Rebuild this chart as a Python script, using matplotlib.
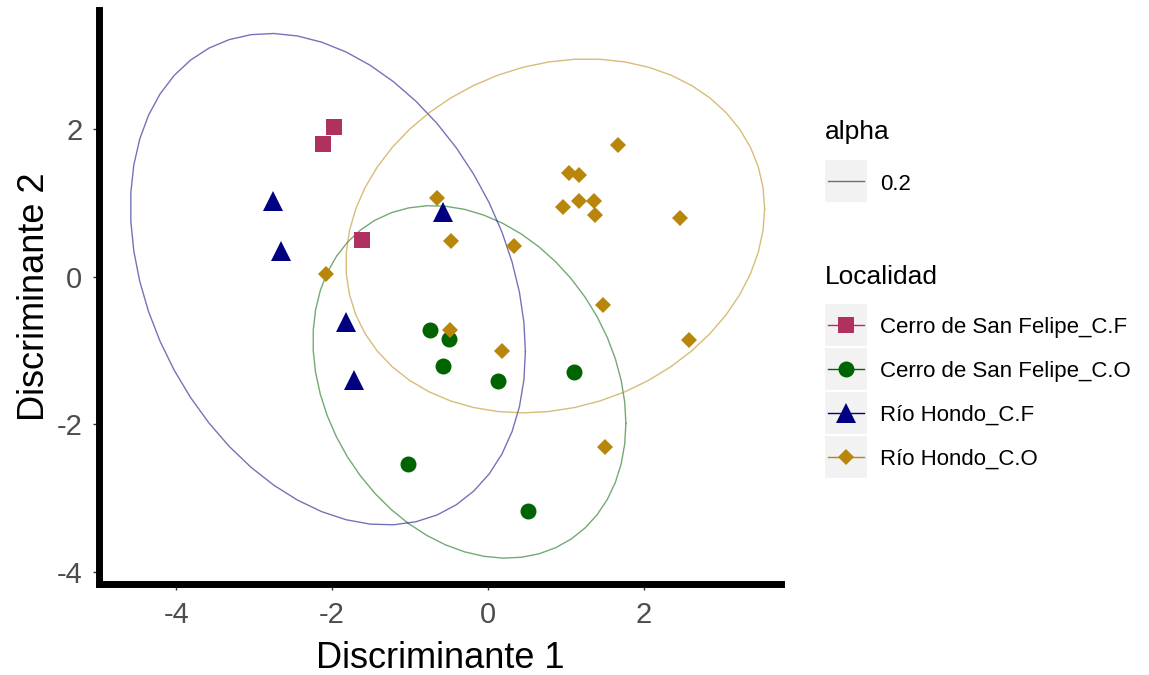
import numpy as np
import matplotlib
matplotlib.use("Agg")
import matplotlib.pyplot as plt
from matplotlib.lines import Line2D
from matplotlib.patches import Rectangle

plt.rcParams['font.family'] = ['Liberation Sans', 'DejaVu Sans']
plt.rcParams['axes.unicode_minus'] = False

# ---- data ----
groups = ["Cerro de San Felipe_C.F", "Cerro de San Felipe_C.O",
          "Río Hondo_C.F", "Río Hondo_C.O"]

csf_cf_x = [-1.97, -2.12, -1.62]
csf_cf_y = [2.03, 1.80, 0.49]

csf_co_x = [-0.74, -0.50, -0.58, 0.13, 1.10, -1.03, 0.51]
csf_co_y = [-0.72, -0.84, -1.21, -1.41, -1.29, -2.54, -3.17]

rh_cf_x = [-2.76, -2.65, -0.58, -1.82, -1.72]
rh_cf_y = [1.03, 0.35, 0.88, -0.61, -1.40]

rh_co_x = [1.67, 1.04, 1.17, 0.96, 1.17, 1.36, 1.38, 2.47, -0.65, -0.47,
           0.33, -2.08, 1.47, 2.58, -0.49, 0.18, 1.50]
rh_co_y = [1.78, 1.41, 1.37, 0.94, 1.02, 1.02, 0.83, 0.80, 1.06, 0.48,
           0.42, 0.04, -0.38, -0.86, -0.72, -1.01, -2.30]

xs = [csf_cf_x, csf_co_x, rh_cf_x, rh_co_x]
ys = [csf_cf_y, csf_co_y, rh_cf_y, rh_co_y]

colors = ["#B03060", "#006400", "#000080", "#B8860B"]
markers = ["s", "o", "^", "D"]
msizes = [12, 11.5, 15, 8.5]
x_ticks = [-4, -2, 0, 2]
y_ticks = [-4, -2, 0, 2]


def cov_trob(x, nu=5, maxit=25, tol=0.01):
    # port of MASS::cov.trob, which stat_ellipse uses
    n, p = x.shape
    wt = np.ones(n)
    loc = x.mean(axis=0)
    w = np.sqrt(wt)
    for _ in range(maxit):
        w0 = w
        X = x - loc
        _, d, vt = np.linalg.svd(np.sqrt(w / w.sum())[:, None] * X, full_matrices=False)
        wX = X @ vt.T @ np.diag(1 / d)
        Q = (wX ** 2).sum(axis=1)
        w = wt * (nu + p) / (nu + Q)
        loc = (w[:, None] * x).sum(axis=0) / w.sum()
        if np.all(np.abs(w - w0) < tol):
            break
    sX = np.sqrt(w)[:, None] * X
    return loc, sX.T @ sX / wt.sum()


def ellipse(x, y, level=0.95, segments=51):
    pts = np.column_stack([x, y])
    loc, cov = cov_trob(pts)
    dfd = len(pts) - 1
    f = dfd / 2 * ((1 - level) ** (-2 / dfd) - 1)  # qf(level, 2, dfd)
    radius = np.sqrt(2 * f)
    ang = np.linspace(0, 2 * np.pi, segments + 1)
    circle = np.column_stack([np.cos(ang), np.sin(ang)])
    ell = loc + radius * circle @ np.linalg.cholesky(cov).T
    return ell[:, 0], ell[:, 1]


fig = plt.figure(figsize=(11.49, 6.75), dpi=100)
ax = fig.add_axes([99 / 1149, 91 / 675, 682 / 1149, 574 / 675])

for gx, gy, c in zip(xs, ys, colors):
    if len(gx) > 3:
        ex, ey = ellipse(gx, gy)
        ax.plot(ex, ey, color=c, alpha=0.55, lw=1.0, zorder=2)

for gx, gy, c, m, s in zip(xs, ys, colors, markers, msizes):
    ax.plot(gx, gy, linestyle="none", marker=m, color=c, markersize=s,
            markeredgewidth=0, zorder=3)

ax.set_xlim(-4.99, 3.76)
ax.set_ylim(-4.16, 3.61)
ax.set_xticks(x_ticks)
ax.set_yticks(y_ticks)
for side in ["top", "right"]:
    ax.spines[side].set_visible(False)
for side in ["left", "bottom"]:
    ax.spines[side].set_linewidth(5)
    ax.spines[side].set_capstyle("projecting")
ax.tick_params(length=4, width=1, color="#333333", labelcolor="#4D4D4D",
               labelsize=21, pad=8)
ax.set_xlabel("Discriminante 1", fontsize=26, labelpad=9)
ax.set_ylabel("Discriminante 2", fontsize=26, labelpad=3)

# ---- legend drawn in pixel space ----
lax = fig.add_axes([0, 0, 1, 1])
lax.set_xlim(0, 1149)
lax.set_ylim(675, 0)
lax.axis("off")

key_x, key_w = 825, 42
lax.text(key_x, 132, "alpha", fontsize=19, va="center", ha="left")
lax.add_patch(Rectangle((key_x, 160), key_w, 42, color="#F2F2F2", lw=0))
lax.add_line(Line2D([key_x + 3, key_x + key_w - 3], [181, 181], color="black",
                    alpha=0.55, lw=1.0))
lax.text(880, 184, "0.2", fontsize=16, va="center", ha="left")

lax.text(key_x, 277, "Localidad", fontsize=19, va="center", ha="left")
key_tops = [304, 348, 392, 436]
for top, g, c, m, s in zip(key_tops, groups, colors, markers, msizes):
    cy = top + 21
    lax.add_patch(Rectangle((key_x, top), key_w, 42, color="#F2F2F2", lw=0))
    lax.add_line(Line2D([key_x + 3, key_x + key_w - 3], [cy, cy], color=c, lw=1.0))
    lax.add_line(Line2D([key_x + key_w / 2], [cy], marker=m, color=c,
                        markersize=s, markeredgewidth=0, linestyle="none"))
    lax.text(880, cy + 2, g, fontsize=16, va="center", ha="left")

fig.savefig("out.png", dpi=100)
